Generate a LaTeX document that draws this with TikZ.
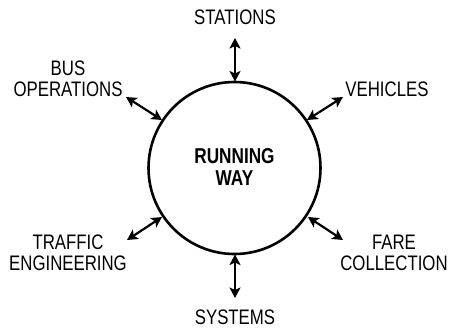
\documentclass[tikz,border=0pt]{standalone}
\usepackage{fontspec}
\setmainfont{Liberation Sans}[FakeStretch=0.8]
\usetikzlibrary{arrows.meta}
\begin{document}
\begin{tikzpicture}[x=1pt,y=-1pt,
  lbl/.style={font=\fontsize{21}{21}\selectfont, align=center, inner sep=0pt},
  tip/.style={Stealth[length=10.5pt,width=11pt,inset=2.5pt]},
  link/.style={line width=2.2pt, {Stealth[length=10.5pt,width=11pt,inset=2.5pt]}-{Stealth[length=10.5pt,width=11pt,inset=2.5pt]}}]
\useasboundingbox (0,0) rectangle (449,330);
\node[circle, draw, line width=2.6pt, minimum size=172pt, inner sep=0pt] (c) at (234.5,168) {};
\node[lbl, font=\fontsize{21.5}{22.5}\selectfont\bfseries] (rw) at (234.5,167) {RUNNING\\WAY};
\node[lbl] (st) at (235,17.5) {STATIONS};
\node[lbl] (sy) at (235,317.5) {SYSTEMS};
\node[lbl] (bo) at (68,78.5) {BUS\\OPERATIONS};
\node[lbl] (ve) at (387,89) {VEHICLES};
\node[lbl] (te) at (68,252.5) {TRAFFIC\\ENGINEERING};
\node[lbl] (fc) at (394,252.5) {FARE\\COLLECTION};
\coordinate (a1) at (235,38);
\coordinate (a2) at (235,81.5);
\coordinate (b1) at (235,254.5);
\coordinate (b2) at (235,298);
\coordinate (c1) at (126,97);
\coordinate (c2) at (162,120);
\coordinate (d1) at (343,97);
\coordinate (d2) at (307,120);
\coordinate (e1) at (127,240);
\coordinate (e2) at (162,217);
\coordinate (f1) at (343,240);
\coordinate (f2) at (308,217);
\draw[link] (a1) -- (a2);
\draw[link] (b1) -- (b2);
\draw[link] (c1) -- (c2);
\draw[link] (d1) -- (d2);
\draw[link] (e1) -- (e2);
\draw[link] (f1) -- (f2);
\end{tikzpicture}
\end{document}
